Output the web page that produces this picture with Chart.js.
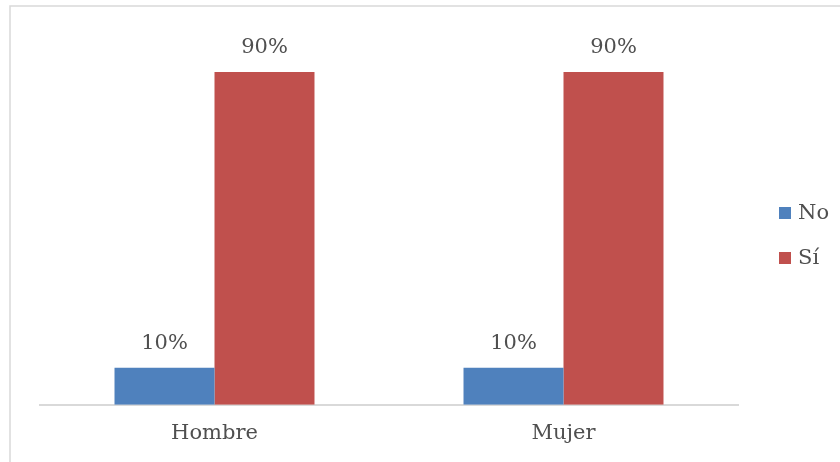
<!DOCTYPE html>
<html>
<head>
<meta charset="utf-8">
<script src="https://cdn.jsdelivr.net/npm/chart.js@4/dist/chart.umd.min.js"></script>
<style>
  html, body { margin: 0; padding: 0; background: #fff; }
  #wrap { width: 840px; height: 462px; position: relative; }
</style>
</head>
<body>
<div id="wrap"><canvas id="chart" width="840" height="462"></canvas></div>
<script>
// Data
const categories = ['Hombre', 'Mujer'];
const seriesNames = ['No', 'Sí'];
const noValues = [10, 10];
const siValues = [90, 90];

const BLUE = '#4F81BD';
const RED = '#C0504D';
const TEXT = '#4f4f4f';
const FONT = "'DejaVu Serif', serif";

// Light grey frame at top/left, as in the exported picture
const framePlugin = {
  id: 'frame',
  beforeDraw(chart) {
    const ctx = chart.ctx;
    ctx.save();
    ctx.strokeStyle = '#d9d9d9';
    ctx.lineWidth = 1.5;
    ctx.beginPath();
    ctx.moveTo(10, chart.height);
    ctx.lineTo(10, 6);
    ctx.lineTo(chart.width, 6);
    ctx.stroke();
    ctx.restore();
  }
};

// Percentage labels above each bar
const valueLabels = {
  id: 'valueLabels',
  afterDatasetsDraw(chart) {
    const ctx = chart.ctx;
    ctx.save();
    ctx.font = '21px ' + FONT;
    ctx.fillStyle = TEXT;
    ctx.textAlign = 'center';
    ctx.textBaseline = 'middle';
    chart.data.datasets.forEach((ds, i) => {
      chart.getDatasetMeta(i).data.forEach((bar, j) => {
        ctx.fillText(ds.data[j] + '%', bar.x, bar.y - 24);
      });
    });
    ctx.restore();
  }
};

// Legend on the right, drawn from the datasets
const sideLegend = {
  id: 'sideLegend',
  afterDraw(chart) {
    const ctx = chart.ctx;
    const x = chart.chartArea.right + 41;
    const y0 = 213;
    const step = 45;
    ctx.save();
    ctx.font = '21px ' + FONT;
    ctx.textBaseline = 'middle';
    chart.data.datasets.forEach((ds, i) => {
      const y = y0 + i * step;
      ctx.fillStyle = ds.backgroundColor;
      ctx.fillRect(x, y - 6, 12, 12);
      ctx.fillStyle = TEXT;
      ctx.fillText(ds.label, x + 19, y + 1);
    });
    ctx.restore();
  }
};

new Chart(document.getElementById('chart'), {
  type: 'bar',
  data: {
    labels: categories,
    datasets: [
      { label: seriesNames[0], data: noValues, backgroundColor: BLUE },
      { label: seriesNames[1], data: siValues, backgroundColor: RED }
    ]
  },
  options: {
    responsive: false,
    animation: false,
    layout: { padding: { top: 35, left: 40, right: 102, bottom: 0 } },
    datasets: {
      bar: { barPercentage: 1, categoryPercentage: 0.573 }
    },
    plugins: {
      legend: { display: false },
      tooltip: { enabled: false }
    },
    scales: {
      x: {
        grid: { display: true, color: 'transparent', drawTicks: false },
        border: { display: true, color: '#d9d9d9', width: 2 },
        ticks: {
          color: TEXT,
          padding: 16,
          font: { family: FONT, size: 21 }
        }
      },
      y: {
        display: false,
        min: 0,
        max: 100
      }
    }
  },
  plugins: [framePlugin, valueLabels, sideLegend]
});
</script>
</body>
</html>
